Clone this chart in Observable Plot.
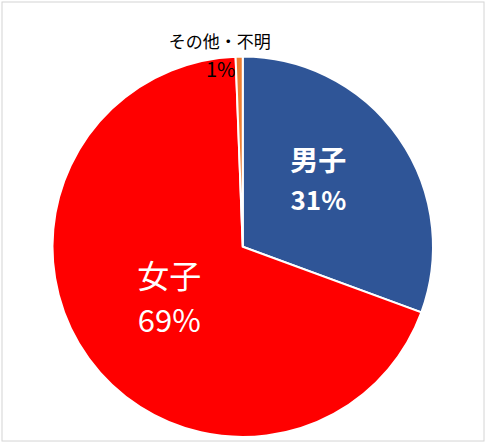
<!DOCTYPE html>
<html>
<head>
<meta charset="utf-8">
<script src="https://cdn.jsdelivr.net/npm/d3@7"></script>
<script src="https://cdn.jsdelivr.net/npm/@observablehq/plot@0.6"></script>
<style>
  html, body { margin: 0; padding: 0; background: #fff; }
  #chart svg { display: block; font-family: "Noto Sans CJK JP", "Noto Sans", sans-serif; }
</style>
</head>
<body>
<div id="chart"></div>
<script>
// ---- data ----
const categories = ["男子", "女子", "その他・不明"];
const shares = [30.6, 68.8, 0.6];
const percentLabels = ["31%", "69%", "1%"];

// ---- styles ----
const colors = ["#2F5597", "#FF0000", "#ED7D31"];

const rows = categories.map((c, i) => ({category: c, share: shares[i], pct: percentLabels[i], color: colors[i]}));
const arcs = d3.pie().sort(null).value(d => d.share)(rows);

// polar helper in data units (unit circle, angle clockwise from top)
function polar(a, k) { return [k * Math.sin(a), k * Math.cos(a)]; }

const labelRows = arcs.map((a, i) => {
  const mid = (a.startAngle + a.endAngle) / 2;
  const k = i === 2 ? 1.0 : 0.52;
  const [x, y] = polar(mid, k);
  return {x, y, name: a.data.category, pct: a.data.pct, i};
});

function pieMark(index, scales, values, dimensions) {
  const sx = scales.x, sy = scales.y;
  const cx = sx(0), cy = sy(0);
  const r = Math.abs(sx(1) - sx(0));
  const g = d3.create("svg:g").attr("transform", `translate(${cx},${cy})`);
  const arcGen = d3.arc().innerRadius(0).outerRadius(r);
  g.selectAll("path").data(arcs).join("path")
    .attr("d", arcGen)
    .attr("fill", d => d.data.color)
    .attr("stroke", "#fff")
    .attr("stroke-width", 2)
    .attr("stroke-linejoin", "miter");
  return g.node();
}

const male = labelRows.filter(d => d.i === 0);
const female = labelRows.filter(d => d.i === 1);
const other = labelRows.filter(d => d.i === 2);

const chart = Plot.plot({
  width: 485,
  height: 442,
  margin: 0,
  x: {domain: [-1, 1], range: [52.5, 433], axis: null},
  y: {domain: [-1, 1], range: [437, 56.5], axis: null},
  marks: [
    pieMark,
    // 男子
    Plot.text(male, {x: "x", y: "y", text: "name", fill: "white", fontSize: 28, fontWeight: "bold", dx: -6, dy: -29}),
    Plot.text(male, {x: "x", y: "y", text: "pct", fill: "white", fontSize: 26, fontWeight: "bold", dx: -6, dy: 11}),
    // 女子
    Plot.text(female, {x: "x", y: "y", text: "name", fill: "white", fontSize: 32, dx: 6, dy: -28}),
    Plot.text(female, {x: "x", y: "y", text: "pct", fill: "white", fontSize: 31, dx: 6, dy: 17}),
    // その他・不明
    Plot.text(other, {x: "x", y: "y", text: "name", fill: "black", fontSize: 17, dx: -20, dy: -14}),
    Plot.text(other, {x: "x", y: "y", text: "pct", fill: "black", fontSize: 20, dx: -19, dy: 14}),
    Plot.frame({stroke: "#d4d4d4", inset: 1.5})
  ]
});
document.getElementById("chart").append(chart);
</script>
</body>
</html>
